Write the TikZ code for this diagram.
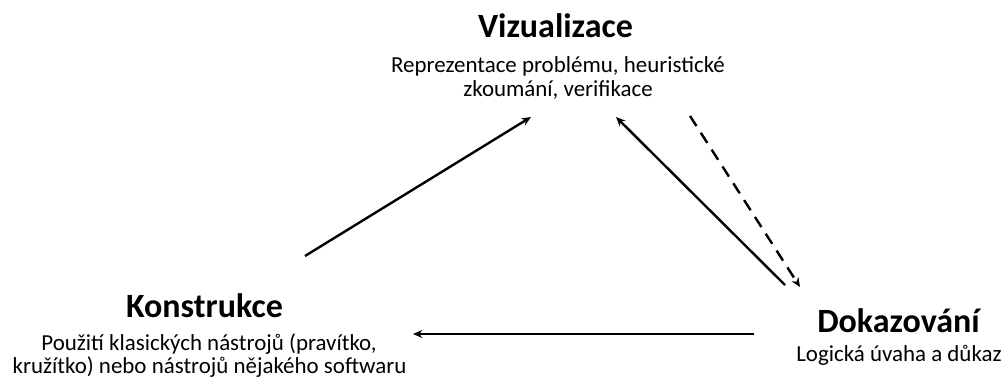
\documentclass[tikz,border=0pt]{standalone}
\usepackage{fontspec}
\setmainfont{Carlito}
\usetikzlibrary{arrows.meta}
\begin{document}
\begin{tikzpicture}[x=0.75pt,y=-0.75pt,
  title/.style={font=\fontsize{25.5}{30}\selectfont\bfseries, inner sep=0pt, anchor=base},
  sub/.style={font=\fontsize{17.2}{18.5}\selectfont, align=center, inner sep=0pt, anchor=base},
  conn/.style={line width=1.8pt, -{Stealth[length=7pt,width=6pt]}}]
\useasboundingbox (0,0) rectangle (1001,379);
\node[title] (vt) at (555.5,37) {Vizualizace};
\node[sub] (vs1) at (558,72) {Reprezentace problému, heuristické};
\node[sub] (vs2) at (558,96) {zkoumání, verifikace};
\node[title] (kt) at (204.5,317) {Konstrukce};
\node[sub] (ks1) at (209,350) {Použití klasických nástrojů (pravítko,};
\node[sub] (ks2) at (209.5,373) {kružítko) nebo nástrojů nějakého softwaru};
\node[title] (dt) at (898.5,332) {Dokazování};
\node[sub] (ds) at (899,361) {Logická úvaha a důkaz};
\coordinate (a1) at (305,256);
\coordinate (a2) at (531,117);
\coordinate (b1) at (785,285);
\coordinate (b2) at (616,117);
\coordinate (c1) at (690,116);
\coordinate (c2) at (800,287);
\coordinate (d1) at (754,334);
\coordinate (d2) at (413,334);
\draw[conn] (a1) -- (a2);
\draw[conn] (b1) -- (b2);
\draw[conn, dash pattern=on 9pt off 6pt] (c1) -- (c2);
\draw[conn] (d1) -- (d2);
\end{tikzpicture}
\end{document}
